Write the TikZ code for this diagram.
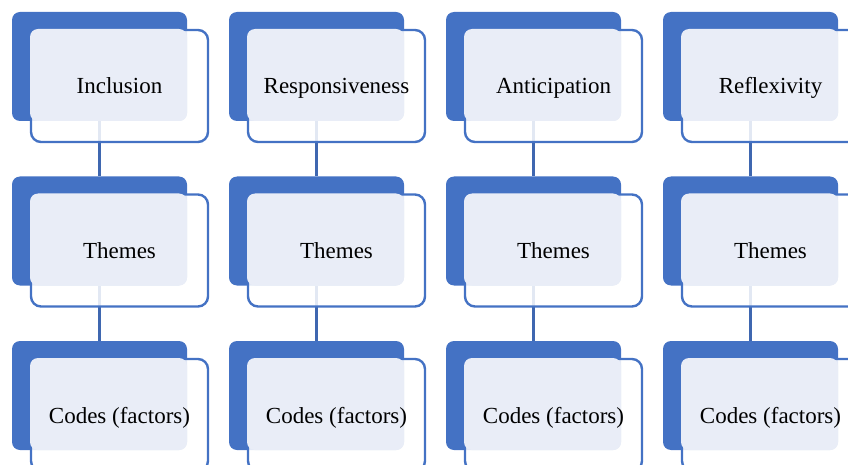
\documentclass[tikz,border=0pt]{standalone}
\usepackage{fontspec}
\setmainfont{Liberation Serif}
\newfontfamily\lserif{Liberation Serif}
\definecolor{blu}{HTML}{4472C4}
\definecolor{lite}{HTML}{E9EDF7}
\definecolor{conn}{HTML}{3F67B0}
\begin{document}
\begin{tikzpicture}[x=1pt,y=-1pt,
  backbox/.style={fill=blu, draw=none, rounded corners=8pt, minimum width=175pt, minimum height=109pt, anchor=north west, inner sep=0pt, outer sep=0pt},
  frontbox/.style={draw=blu, line width=2.4pt, fill=white, fill opacity=0.85, rounded corners=10pt, minimum width=177pt, minimum height=112pt, anchor=north west, inner sep=0pt, outer sep=0pt},
  litebox/.style={fill=lite, draw=none, rounded corners=8pt, minimum width=157pt, minimum height=92pt, anchor=north west, inner sep=0pt, outer sep=0pt},
  lbl/.style={font=\lserif\fontsize{23}{27}\selectfont, text=black, inner sep=0pt, anchor=base},
  connline/.style={draw=conn, line width=2.2pt}
]
\useasboundingbox (0,0) rectangle (848,465);
\foreach \i in {0,...,3}{
  \foreach \j in {0,1,2}{
    \pgfmathsetmacro\bx{12+217*\i}
    \pgfmathsetmacro\by{12+164.5*\j}
    \node[backbox] (b\i\j) at (\bx,\by) {};
  }
}
\foreach \i in {0,...,3}{
  \draw[connline] (b\i0.south) -- (b\i1.north);
  \draw[connline] (b\i1.south) -- (b\i2.north);
}
\foreach \i in {0,...,3}{
  \foreach \j in {0,1,2}{
    \pgfmathsetmacro\bx{12+217*\i}
    \pgfmathsetmacro\by{12+164.5*\j}
    \node[frontbox] (f\i\j) at (\bx+19,\by+18) {};
    \node[litebox] (l\i\j) at (\bx+18,\by+17) {};
  }
}
\foreach \i/\t in {0/Inclusion,1/Responsiveness,2/Anticipation,3/Reflexivity}{
  \node[lbl] (t\i0) at ([yshift=-8pt]f\i0.center) {\t};
  \node[lbl] (t\i1) at ([yshift=-8pt]f\i1.center) {Themes};
  \node[lbl] (t\i2) at ([yshift=-8pt]f\i2.center) {Codes (factors)};
}
\end{tikzpicture}
\end{document}
